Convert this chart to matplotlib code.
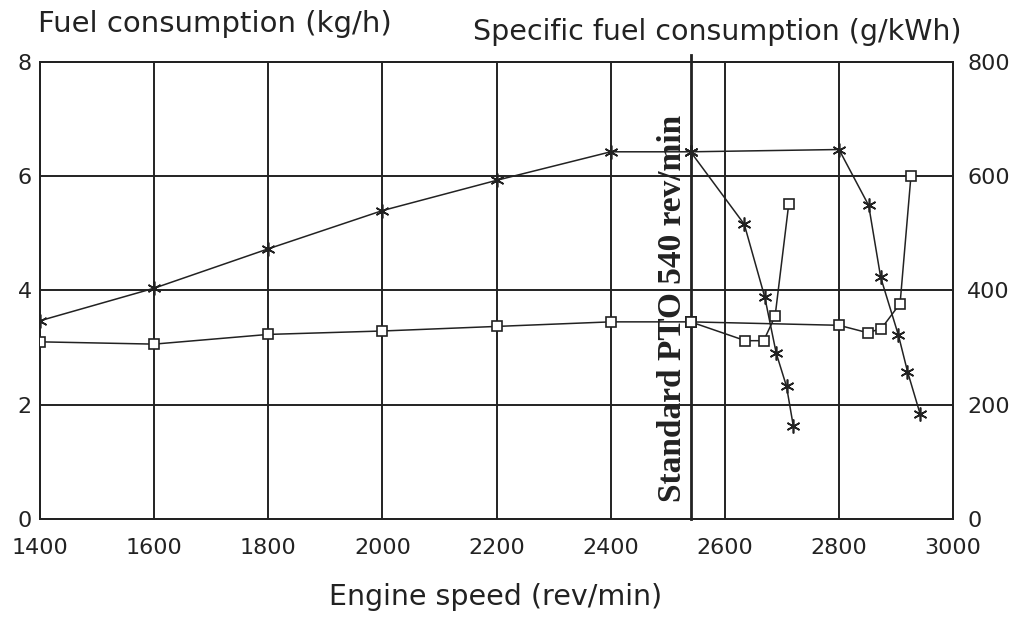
import matplotlib
matplotlib.use("Agg")
import matplotlib.pyplot as plt

# ---- data ----
speed_ticks = [1400, 1600, 1800, 2000, 2200, 2400, 2600, 2800, 3000]
fc_ticks = [0, 2, 4, 6, 8]
sfc_ticks = [0, 200, 400, 600, 800]

# Full-load fuel consumption (kg/h)
fc_speed = [1400, 1600, 1800, 2000, 2200, 2400, 2540]
fc_vals = [3.47, 4.04, 4.73, 5.40, 5.93, 6.43, 6.43]
# governor run-out branch 1 (kg/h)
fc_b1_speed = [2540, 2634, 2670, 2690, 2708, 2720]
fc_b1_vals = [6.43, 5.16, 3.88, 2.90, 2.32, 1.62]
# governor run-out branch 2 (kg/h)
fc_b2_speed = [2540, 2800, 2852, 2873, 2904, 2920, 2942]
fc_b2_vals = [6.43, 6.47, 5.49, 4.23, 3.22, 2.58, 1.84]

# Specific fuel consumption (g/kWh)
sfc_speed = [1400, 1600, 1800, 2000, 2200, 2400, 2540]
sfc_vals = [310, 306, 323, 329, 337, 345, 345]
sfc_b1_speed = [2540, 2636, 2668, 2688, 2712]
sfc_b1_vals = [345, 312, 312, 355, 552]
sfc_b2_speed = [2540, 2800, 2850, 2874, 2907, 2926]
sfc_b2_vals = [345, 339, 326, 333, 377, 600]

pto_speed = 2540
pto_label = "Standard PTO 540 rev/min"

# ---- figure ----
fig = plt.figure(figsize=(10.26, 6.22), dpi=100)
ax = fig.add_axes([0.039, 0.166, 0.890, 0.734])
ax2 = ax.twinx()

ax.set_xlim(1400, 3000)
ax.set_ylim(0, 8)
ax2.set_ylim(0, 800)
ax.set_xticks(speed_ticks)
ax.set_yticks(fc_ticks)
ax2.set_yticks(sfc_ticks)

ax.grid(True, color="#222222", linewidth=1.4)
ax.set_axisbelow(True)
for a in (ax, ax2):
    for s in a.spines.values():
        s.set_linewidth(1.4)
        s.set_color("#222222")

ax.tick_params(axis="both", length=0, labelsize=16, colors="#222222")
ax.tick_params(axis="x", pad=14)
ax.tick_params(axis="y", pad=6)
ax2.tick_params(axis="y", length=0, labelsize=16, colors="#222222", pad=10)

line_kw = dict(color="#222222", linewidth=1.1)
star = dict(marker=(6, 2, 0), markersize=10, markeredgewidth=1.2, markeredgecolor="#222222")
sq = dict(marker="s", markersize=6.5, markeredgewidth=1.2, markeredgecolor="#222222",
          markerfacecolor="white")

ax.plot(fc_speed, fc_vals, **line_kw, **star, zorder=4)
ax.plot(fc_b1_speed, fc_b1_vals, **line_kw, **star, zorder=4)
ax.plot(fc_b2_speed, fc_b2_vals, **line_kw, **star, zorder=4)

ax2.plot(sfc_speed, sfc_vals, **line_kw, **sq, zorder=4)
ax2.plot(sfc_b1_speed, sfc_b1_vals, **line_kw, **sq, zorder=4)
ax2.plot(sfc_b2_speed, sfc_b2_vals, **line_kw, **sq, zorder=4)

# PTO line and label
ax.plot([pto_speed, pto_speed], [0, 8.12], color="#222222", linewidth=2.0,
        clip_on=False, zorder=3)
ax.text(pto_speed - 4, 3.68, pto_label, rotation=90, ha="right", va="center",
        family="Liberation Serif", weight="bold", size=24, color="#222222", zorder=5)

fig.text(0.037, 0.962, "Fuel consumption (kg/h)", family="DejaVu Sans", size=21,
         ha="left", va="center", color="#222222")
fig.text(0.937, 0.948, "Specific fuel consumption (g/kWh)", family="DejaVu Sans", size=20.5,
         ha="right", va="center", color="#222222")
fig.text(0.483, 0.040, "Engine speed (rev/min)", family="DejaVu Sans", size=20.5,
         ha="center", va="center", color="#222222")

fig.savefig("out.png", dpi=100, facecolor="white")
